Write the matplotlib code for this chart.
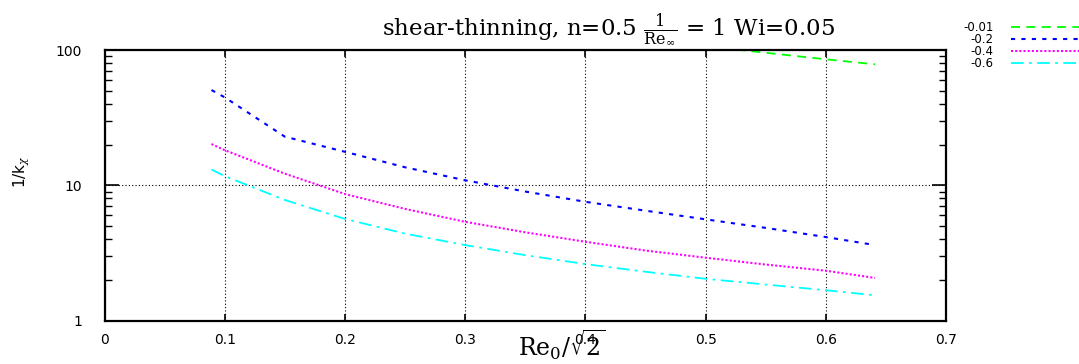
import matplotlib.pyplot as plt
from matplotlib.ticker import FixedLocator, LogLocator, NullFormatter

plt.rcParams['mathtext.fontset'] = 'dejavuserif'

# curve data
x_001 = [0.50, 0.60, 0.641]
y_001 = [106.6, 85.4, 78.4]

x_02 = [0.089, 0.10, 0.150, 0.20, 0.25, 0.30, 0.35, 0.40, 0.45, 0.50, 0.55, 0.60, 0.641]
y_02 = [50.6, 44.7, 22.9, 17.7, 13.6, 10.9, 9.0, 7.56, 6.5, 5.61, 4.85, 4.15, 3.62]

x_04 = [0.089, 0.10, 0.15, 0.20, 0.25, 0.30, 0.35, 0.40, 0.45, 0.50, 0.55, 0.60, 0.641]
y_04 = [20.2, 18.2, 12.2, 8.63, 6.7, 5.38, 4.5, 3.83, 3.3, 2.92, 2.6, 2.34, 2.07]

x_06 = [0.089, 0.10, 0.15, 0.20, 0.25, 0.30, 0.35, 0.40, 0.45, 0.50, 0.55, 0.60, 0.641]
y_06 = [13.1, 11.7, 7.8, 5.65, 4.4, 3.62, 3.05, 2.62, 2.3, 2.04, 1.85, 1.68, 1.54]

labels = ['-0.01', '-0.2', '-0.4', '-0.6']
xticks = [0, 0.1, 0.2, 0.3, 0.4, 0.5, 0.6, 0.7]
yticks = [1, 10, 100]

fig = plt.figure(figsize=(10.79, 3.64), dpi=100)
ax = fig.add_axes([104.5 / 1079, 1 - 320.7 / 364, (946 - 104.5) / 1079, (320.7 - 50) / 364])

lines = []
lines += ax.plot(x_001, y_001, color='#00ff00', lw=1.3, dashes=(5, 3.5))
lines += ax.plot(x_02, y_02, color='#0000ff', lw=1.5, dashes=(2, 3))
lines += ax.plot(x_04, y_04, color='#ff00ff', lw=1.5, dashes=(1, 1))
lines += ax.plot(x_06, y_06, color='#00ffff', lw=1.3, dashes=(7, 3, 1.5, 3))

ax.set_yscale('log')
ax.set_xlim(0, 0.7)
ax.set_ylim(1, 100)
ax.xaxis.set_major_locator(FixedLocator(xticks))
ax.yaxis.set_major_locator(FixedLocator(yticks))
ax.yaxis.set_minor_locator(LogLocator(base=10, subs=range(2, 10)))
ax.yaxis.set_minor_formatter(NullFormatter())
ax.set_xticklabels([('%g' % v) for v in xticks])
ax.set_yticklabels([str(v) for v in yticks])

ax.grid(True, which='major', color='black', linestyle=(0, (1, 2)), lw=0.8)
for s in ax.spines.values():
    s.set_linewidth(1.6)

ax.tick_params(axis='x', which='major', direction='in', length=5, width=1.2,
               top=True, bottom=True, labelsize=10, pad=9)
ax.tick_params(axis='y', which='major', direction='in', length=10, width=1.2,
               left=True, right=True, labelsize=10, pad=16)
ax.tick_params(axis='y', which='minor', direction='in', length=5, width=1.0,
               left=True, right=True)

fig.text(608 / 1079, 1 - 30 / 364,
         r'shear-thinning, n=0.5 $\frac{1}{\mathrm{Re}_\infty}$ = 1 Wi=0.05',
         family='DejaVu Serif', fontsize=16.5, ha='center', va='center')
fig.text(562 / 1079, 1 - 356 / 364, r'$\mathrm{Re}_0/\sqrt{2}$',
         fontsize=17, ha='center', va='baseline')
fig.text(22 / 1079, 1 - 172 / 364, r'1/k$_\chi$', fontsize=11,
         rotation=90, ha='center', va='center')

leg = fig.legend(lines, labels, loc='upper right', bbox_to_anchor=(1.006, 1 - 21 / 364),
                 frameon=False, fontsize=8.5, markerfirst=False, handlelength=6.35,
                 handletextpad=1.45, labelspacing=-0.08, borderaxespad=0, borderpad=0)
for t in leg.get_texts():
    t.set_ha('right')

fig.savefig('out.png', dpi=100)
